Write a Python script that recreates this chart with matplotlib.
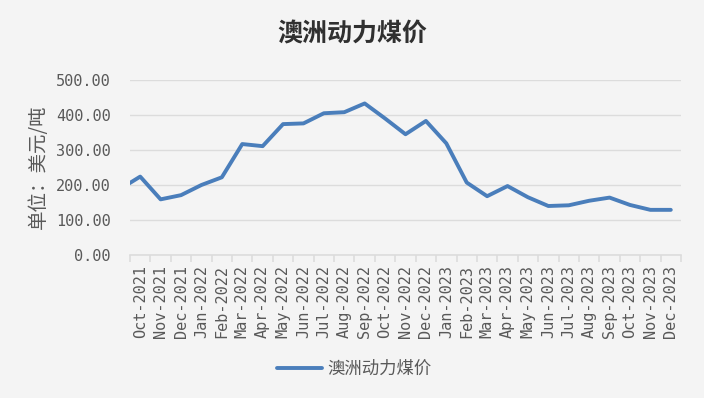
import matplotlib
matplotlib.use("Agg")
import matplotlib.pyplot as plt
import numpy as np

plt.rcParams['font.family'] = ['Noto Sans CJK SC', 'DejaVu Sans']

# Data
months = ["Oct-2021", "Nov-2021", "Dec-2021", "Jan-2022", "Feb-2022", "Mar-2022",
          "Apr-2022", "May-2022", "Jun-2022", "Jul-2022", "Aug-2022", "Sep-2022",
          "Oct-2022", "Nov-2022", "Dec-2022", "Jan-2023", "Feb-2023", "Mar-2023",
          "Apr-2023", "May-2023", "Jun-2023", "Jul-2023", "Aug-2023", "Sep-2023",
          "Oct-2023", "Nov-2023", "Dec-2023"]
prior_value = 188  # Sep-2021, only partly visible at the left edge
prices = [224, 159, 171, 200, 222, 317, 311, 374, 376, 405, 408, 433,
          390, 345, 383, 319, 207, 168, 197, 165, 140, 142, 155, 164,
          143, 129, 129]
series_name = "澳洲动力煤价"
title = "澳洲动力煤价"
ylabel = "单位：美元/吨"
yticks = [0, 100, 200, 300, 400, 500]

bg = "#f4f4f4"
line_color = "#4a7ebb"
text_color = "#595959"
grid_color = "#dcdcdc"

fig = plt.figure(figsize=(7.04, 3.98), dpi=100, facecolor=bg)
ax = fig.add_axes([130/704, 1-255/398, (681-130)/704, (255-80)/398], facecolor=bg)

x = np.arange(-1, len(months))
y = [prior_value] + prices
ax.plot(x, y, color=line_color, lw=2.8, solid_capstyle='round', solid_joinstyle='round',
        label=series_name, clip_on=True)

ax.set_xlim(-0.5, len(months) - 0.5)
ax.set_ylim(0, 500)
ax.set_yticks(yticks)
ax.set_yticklabels([f"{v:.2f}" for v in yticks], family='DejaVu Sans Mono',
                   fontsize=11, color=text_color)
ax.tick_params(axis='y', length=0, pad=14)
ax.grid(axis='y', color=grid_color, lw=1.0)
ax.set_axisbelow(True)

ax.set_xticks(np.arange(len(months)))
ax.set_xticklabels(months, rotation=90, family='DejaVu Sans Mono', fontsize=11,
                   color=text_color)
ax.set_xticks(np.arange(-0.5, len(months)), minor=True)
ax.tick_params(axis='x', which='major', length=0, pad=7)
ax.tick_params(axis='x', which='minor', length=5, color=grid_color, width=1.2)

for s in ['top', 'right', 'left']:
    ax.spines[s].set_visible(False)
ax.spines['bottom'].set_color(grid_color)
ax.spines['bottom'].set_linewidth(1.2)

fig.text(352/704, 1-35/398, title, ha='center', va='center', fontsize=18,
         fontweight='bold', color="#303030")
fig.text(38/704, 1-167/398, ylabel, ha='center', va='center', rotation=90,
         fontsize=14, color=text_color)

leg = fig.legend(loc='center', bbox_to_anchor=(354/704, 1-369/398), frameon=False,
                 handlelength=2.6, fontsize=12.5, handletextpad=0.3)
for t in leg.get_texts():
    t.set_color(text_color)

fig.savefig("out.png", dpi=100, facecolor=bg)
